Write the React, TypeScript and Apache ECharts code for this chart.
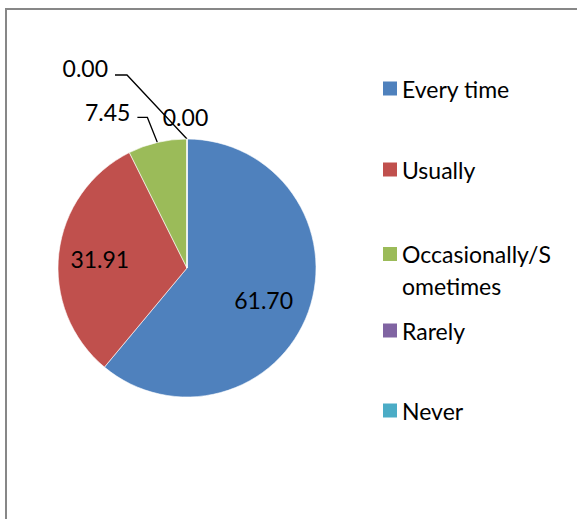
import React, { useEffect, useRef } from "react";
import * as echarts from "echarts";

const categories = ["Every time", "Usually", "Occasionally/Sometimes", "Rarely", "Never"];
const legendLabels = ["Every time", "Usually", "\nOccasionally/S\nometimes", "Rarely", "Never"];
const values = [61.7, 31.91, 7.45, 0.0, 0.0];
const colors = ["#4F81BD", "#C0504D", "#9BBB59", "#8064A2", "#4BACC6"];

const CX = 187;
const CY = 268;
const R = 129;
const FONT = "Lato, 'Open Sans', sans-serif";
const legendIconTops = [83, 164, 244, 325, 405];

export default function App() {
  const ref = useRef<HTMLDivElement>(null);
  useEffect(() => {
    const chart = echarts.init(ref.current!, null, { renderer: "svg" });
    chart.setOption({
      animation: false,
      backgroundColor: "#ffffff",
      graphic: [
        {
          type: "rect",
          silent: true,
          shape: { x: 6, y: 9, width: 700, height: 700 },
          style: { fill: "none", stroke: "#878787", lineWidth: 2 },
        },
      ],
      legend: categories.map((c, i) => ({
        data: [c],
        orient: "vertical",
        left: 383,
        top: i === 2 ? legendIconTops[i] - 38 : legendIconTops[i] - 6,
        padding: 0,
        itemWidth: 14,
        itemHeight: 14,
        icon: "rect",
        selectedMode: false,
        itemStyle: { borderWidth: 0 },
        formatter: () => legendLabels[i],
        textStyle: {
          fontFamily: FONT,
          fontSize: 23,
          color: "#000",
          lineHeight: i === 2 ? 32 : 14,
        },
      })),
      series: [
        {
          type: "pie",
          center: [CX, CY],
          radius: R,
          startAngle: 90,
          clockwise: true,
          avoidLabelOverlap: false,
          color: colors,
          itemStyle: { borderColor: "#ffffff", borderWidth: 0.6 },
          data: categories.map((c, i) => ({
            name: c,
            value: values[i],
            label: i < 2 ? { position: "inside" } : undefined,
            labelLine: i < 2 || i === 4 ? { show: false } : undefined,
          })),
          label: {
            show: true,
            position: "outside",
            formatter: (p: any) => Number(p.value).toFixed(2),
            fontFamily: FONT,
            fontSize: 23,
            color: "#000",
          },
          labelLine: {
            show: true,
            length: 20,
            length2: 10,
            lineStyle: { color: "#000", width: 1.3 },
          },
          labelLayout: (p: any) => {
            const i = p.dataIndex;
            const lr = p.labelRect;
            if (i === 0 || i === 1) {
              const k = i === 0 ? 1.27 : 1.36;
              const nx = i === 0 ? -4 : 4;
              const ny = i === 0 ? 3 : 2;
              const mx = lr.x + lr.width / 2;
              const my = lr.y + lr.height / 2;
              return { x: CX + (mx - CX) * k + nx, y: CY + (my - CY) * k + ny };
            }
            const a = p.labelLinePoints ? p.labelLinePoints[0] : [CX, CY - R];
            if (i === 2) {
              const m = [a[0] - 10, a[1] - 25];
              const e = [m[0] - 10, m[1]];
              return { x: e[0] - 7, y: e[1] - 5, align: "right", verticalAlign: "middle", labelLinePoints: [a, m, e] };
            }
            if (i === 3) {
              const m = [a[0] - 60, a[1] - 64];
              const e = [m[0] - 12, m[1]];
              return { x: e[0] - 7, y: e[1] - 7, align: "right", verticalAlign: "middle", labelLinePoints: [a, m, e] };
            }
            return { x: a[0] - 1.5, y: a[1] - 22, align: "center", verticalAlign: "middle" };
          },
        },
      ],
    });
    return () => chart.dispose();
  }, []);
  return <div ref={ref} style={{ position: "fixed", left: 0, top: 0, width: 577, height: 519 }} />;
}
